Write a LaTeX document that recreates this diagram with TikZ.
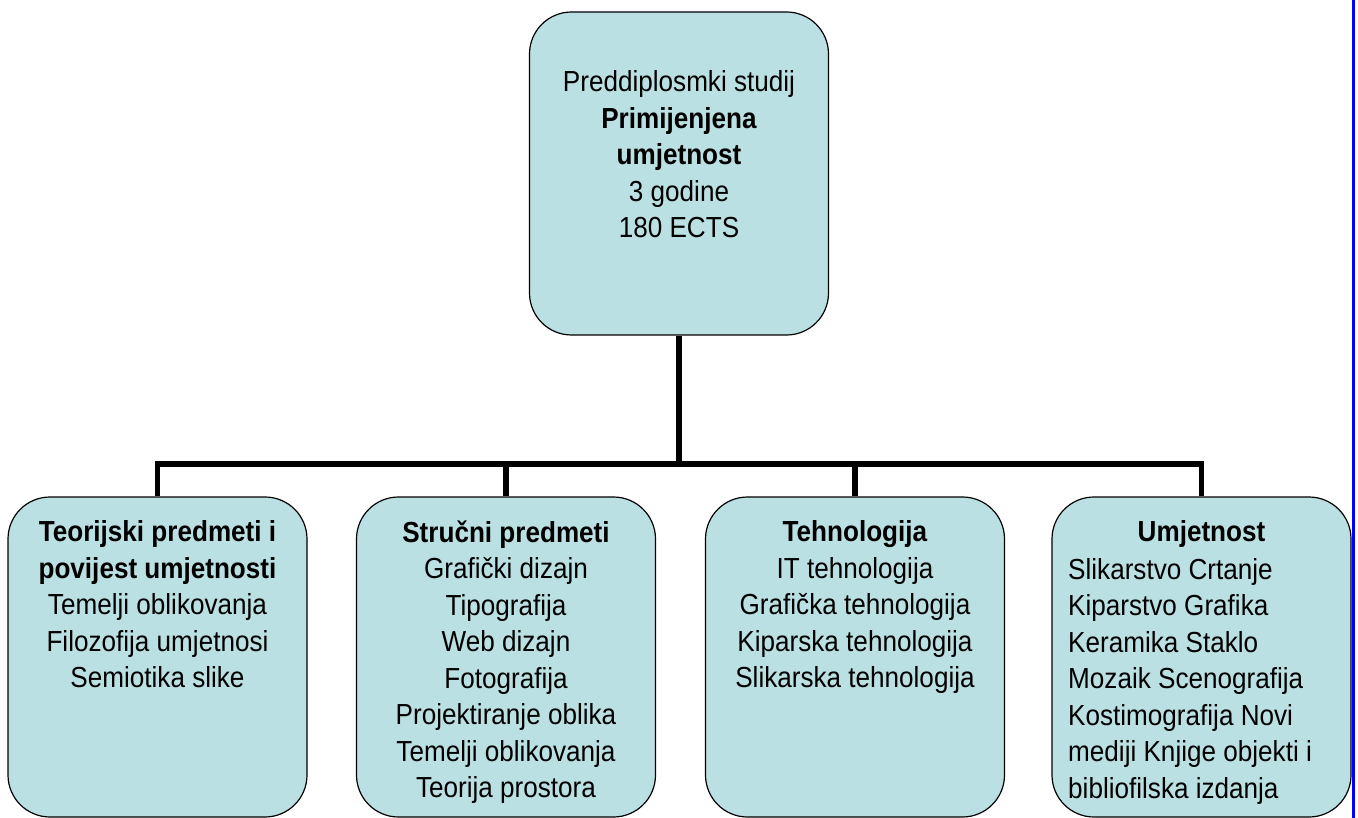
\documentclass[tikz,border=0pt]{standalone}
\usepackage{fontspec}
\setmainfont{Liberation Sans}[FakeStretch=0.9]
\usepackage{tikz}
\usetikzlibrary{positioning}
\definecolor{lightteal}{RGB}{187,224,227}

\begin{document}
\begin{tikzpicture}[x=1pt,y=-1pt,
  box/.style={draw, fill=lightteal, line width=1.2pt, rounded corners=42pt,
    minimum width=299pt, inner sep=0pt},
  txt/.style={align=center, inner sep=0pt, font=\fontsize{29pt}{36.5pt}\selectfont},
  link/.style={line width=5.5pt}]
\useasboundingbox (0,0) rectangle (1358,818);
\draw[blue, line width=3pt] (1353.5,0) -- (1353.5,818);

\node[box, minimum height=323pt] (top) at (679,173.5) {};
\node[box, minimum height=320pt] (teorija) at (157.5,657) {};
\node[box, minimum height=320pt] (strucni) at (506,657) {};
\node[box, minimum height=320pt] (tehno) at (855,657) {};
\node[box, minimum height=320pt] (umjet) at (1201.5,657) {};

\coordinate (level) at (0,464);
\draw[link] (top.south) -- (top.south |- level) coordinate (hub);
\foreach \n in {teorija,strucni,tehno,umjet}
  \draw[link] (hub) -| (\n.north);

\node[txt, below=59pt of top.north] (toptxt)
  {Preddiplosmki studij\\\textbf{Primijenjena}\\\textbf{umjetnost}\\3 godine\\180 ECTS};
\node[txt, below=24pt of teorija.north] (teorijatxt)
  {\textbf{Teorijski predmeti i}\\\textbf{povijest umjetnosti}\\Temelji oblikovanja\\Filozofija umjetnosi\\Semiotika slike};
\node[txt, below=24pt of strucni.north] (strucnitxt)
  {\textbf{Stručni predmeti}\\Grafički dizajn\\Tipografija\\Web dizajn\\Fotografija\\Projektiranje oblika\\Temelji oblikovanja\\Teorija prostora};
\node[txt, below=24pt of tehno.north] (tehnotxt)
  {\textbf{Tehnologija}\\IT tehnologija\\Grafička tehnologija\\Kiparska tehnologija\\Slikarska tehnologija};
\node[txt, below=24pt of umjet.north] (umjethead) {\textbf{Umjetnost}};
\node[txt, align=left, anchor=north west] (umjettxt) at (1068,558)
  {Slikarstvo Crtanje\\Kiparstvo Grafika\\Keramika Staklo\\Mozaik Scenografija\\Kostimografija Novi\\mediji Knjige objekti i\\bibliofilska izdanja};
\end{tikzpicture}
\end{document}
